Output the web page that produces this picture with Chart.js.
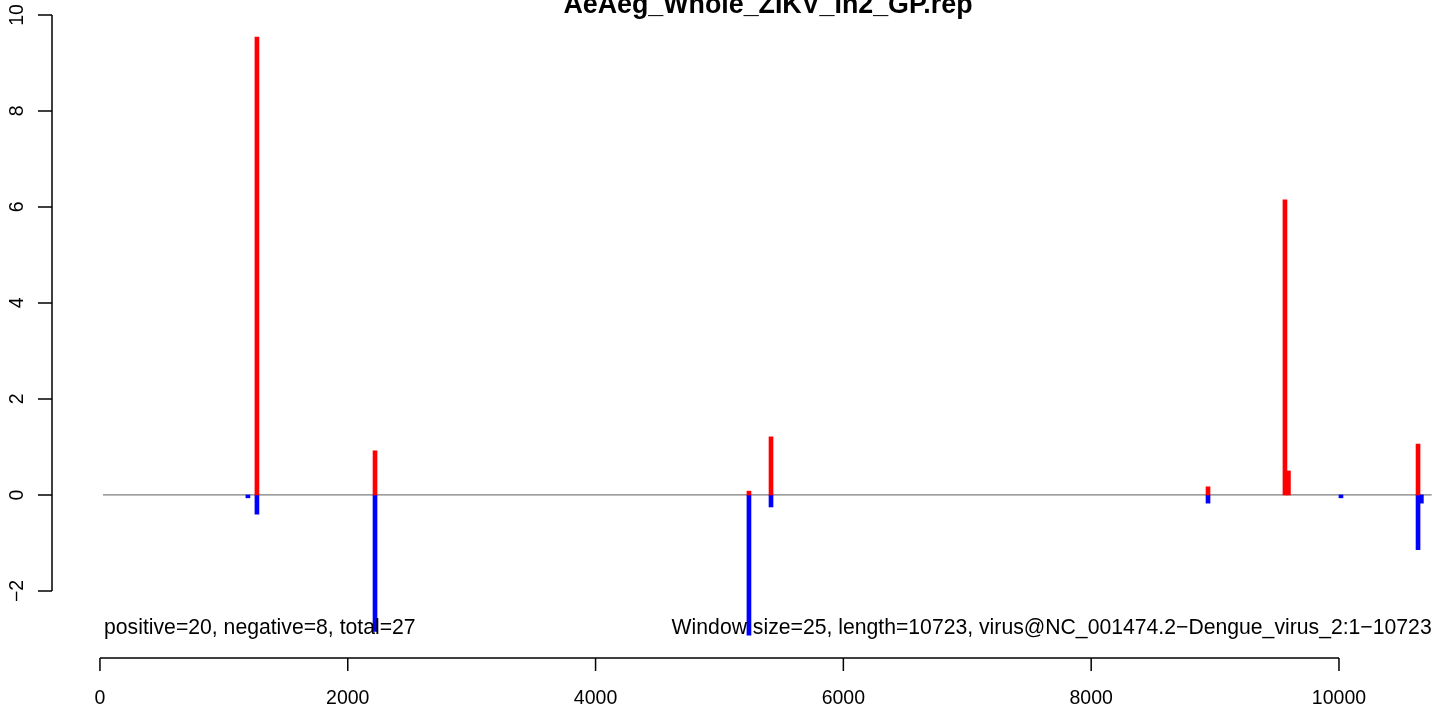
<!DOCTYPE html>
<html>
<head>
<meta charset="utf-8">
<script src="https://cdn.jsdelivr.net/npm/chart.js@4"></script>
<style>
  html, body { margin: 0; padding: 0; background: #fff; }
  canvas { display: block; }
</style>
</head>
<body>
<canvas id="chart" width="1436" height="706"></canvas>
<script>
// Data (window start position, score)
const posX = [1267, 2220, 5238, 5416, 8943, 9564, 9592, 10638];
const posY = [9.54, 0.92, 0.08, 1.21, 0.17, 6.15, 0.50, 1.06];
const negX = [1194, 1267, 2220, 5238, 5416, 8943, 10016, 10638, 10665];
const negY = [-0.06, -0.40, -2.84, -2.92, -0.25, -0.17, -0.06, -1.14, -0.17];
const zeroLineX = [25, 10748];
const xTicks = [0, 2000, 4000, 6000, 8000, 10000];
const yTicks = [-2, 0, 2, 4, 6, 8, 10];

const title = 'AeAeg_Whole_ZIKV_In2_GP.rep';
const leftNote = 'positive=20, negative=8, total=27';
const rightNote = 'Window size=25, length=10723, virus@NC_001474.2\u2212Dengue_virus_2:1\u221210723';

const FONT = '"Liberation Sans", Arial, Helvetica, sans-serif';

// R style axes + texts
const rAxes = {
    id: 'rAxes',
    afterDraw(chart) {
        const ctx = chart.ctx;
        const xs = chart.scales.x, ys = chart.scales.y;
        const area = chart.chartArea;
        ctx.save();
        ctx.strokeStyle = '#000';
        ctx.fillStyle = '#000';
        ctx.lineWidth = 1.5;

        // x axis
        const xb = area.bottom;
        ctx.beginPath();
        ctx.moveTo(xs.getPixelForValue(xTicks[0]), xb);
        ctx.lineTo(xs.getPixelForValue(xTicks[xTicks.length - 1]), xb);
        xTicks.forEach(t => {
            const px = xs.getPixelForValue(t);
            ctx.moveTo(px, xb);
            ctx.lineTo(px, xb + 13);
        });
        ctx.stroke();
        ctx.font = '19.5px ' + FONT;
        ctx.textAlign = 'center';
        ctx.textBaseline = 'alphabetic';
        xTicks.forEach(t => ctx.fillText(String(t), xs.getPixelForValue(t), 704));

        // y axis
        const yl = area.left;
        ctx.beginPath();
        ctx.moveTo(yl, ys.getPixelForValue(yTicks[0]));
        ctx.lineTo(yl, ys.getPixelForValue(yTicks[yTicks.length - 1]));
        yTicks.forEach(t => {
            const py = ys.getPixelForValue(t);
            ctx.moveTo(yl, py);
            ctx.lineTo(yl - 14, py);
        });
        ctx.stroke();
        yTicks.forEach(t => {
            const py = ys.getPixelForValue(t);
            ctx.save();
            ctx.translate(23, py);
            ctx.rotate(-Math.PI / 2);
            ctx.fillText(String(t).replace('-', '\u2212'), 0, 0);
            ctx.restore();
        });

        // notes
        ctx.font = '21.2px ' + FONT;
        ctx.textAlign = 'left';
        ctx.fillText(leftNote, xs.getPixelForValue(zeroLineX[0]) + 1, 634);
        ctx.textAlign = 'right';
        ctx.fillText(rightNote, xs.getPixelForValue(zeroLineX[1]), 634);

        // title (cut at the top like the reference)
        ctx.font = 'bold 26.8px ' + FONT;
        ctx.textAlign = 'center';
        ctx.fillText(title, 768, 13);
        ctx.restore();
    }
};

new Chart(document.getElementById('chart'), {
    type: 'bar',
    data: {
        datasets: [
            {
                type: 'line',
                data: zeroLineX.map(x => ({ x: x, y: 0 })),
                borderColor: '#7f7f7f',
                borderWidth: 1.2,
                pointRadius: 0,
                order: 3
            },
            {
                data: negX.map((x, i) => ({ x: x, y: negY[i] })),
                backgroundColor: '#0000ff',
                barThickness: 4,
                grouped: false,
                order: 2
            },
            {
                data: posX.map((x, i) => ({ x: x, y: posY[i] })),
                backgroundColor: '#ff0000',
                barThickness: 4,
                grouped: false,
                order: 1
            }
        ]
    },
    options: {
        responsive: false,
        animation: false,
        devicePixelRatio: 1,
        layout: { padding: { left: 52, right: 0, top: 0, bottom: 48 } },
        plugins: { legend: { display: false }, tooltip: { enabled: false } },
        scales: {
            x: { type: 'linear', min: -387, max: 10783, offset: false, display: false },
            y: { type: 'linear', min: -3.396, max: 10.31, display: false }
        }
    },
    plugins: [rAxes]
});
</script>
</body>
</html>
